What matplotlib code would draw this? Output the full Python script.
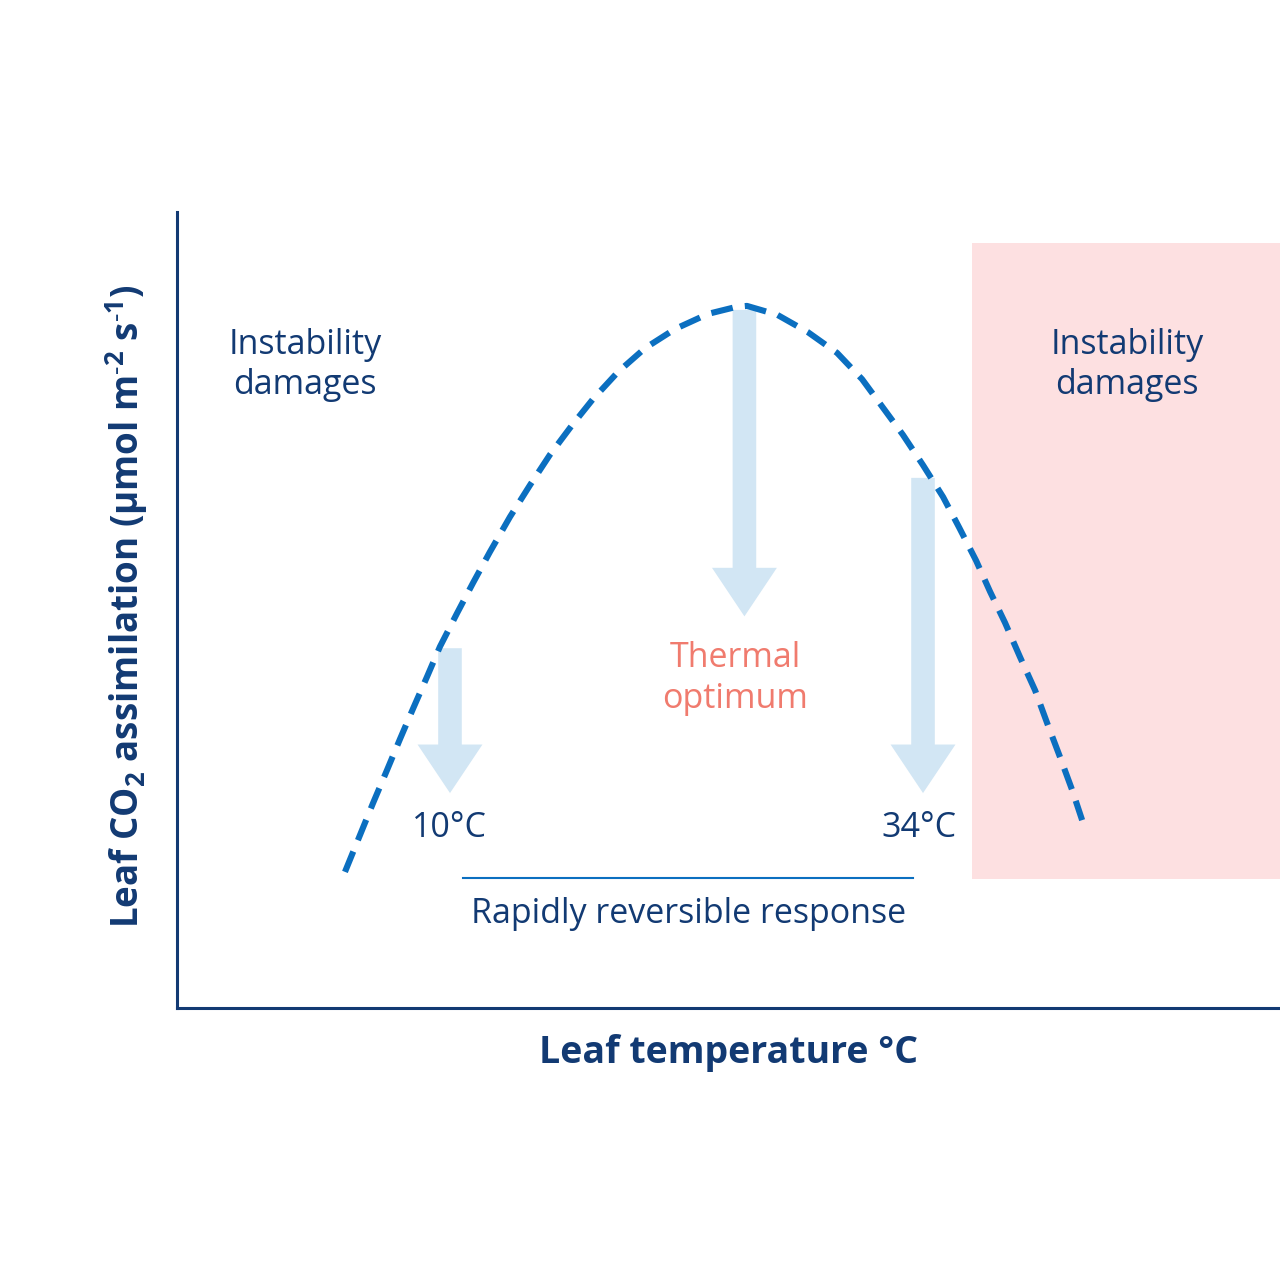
import matplotlib
matplotlib.use("Agg")
import matplotlib.pyplot as plt
from matplotlib.patches import FancyArrow, Rectangle

plt.rcParams['font.family'] = ['Open Sans', 'DejaVu Sans']
plt.rcParams['mathtext.default'] = 'regular'

NAVY = "#123a73"
BLUE = "#0b6fc0"
LIGHT = "#d2e6f4"
PINK = "#fde0e1"
SALMON = "#f07b6e"

# response curve (temperature degC, assimilation in arbitrary units)
temp = [4.66, 5.42, 6.08, 6.80, 7.46, 8.12, 8.83, 9.49, 10.36, 11.17, 12.03,
        13.05, 14.07, 15.08, 16.20, 17.27, 18.54, 19.92, 21.44, 23.12, 24.59,
        25.10, 26.63, 28.20, 29.68, 30.95, 32.02, 33.03, 34.05, 35.07, 35.88,
        36.75, 37.46, 38.22, 38.98, 39.75, 40.36, 41.02, 41.63, 42.14]
assim = [17.1, 21.7, 25.7, 29.9, 33.8, 37.6, 41.6, 45.4, 49.6, 53.4, 57.3,
         61.7, 65.7, 69.5, 73.2, 76.5, 79.9, 82.9, 85.3, 87.2, 88.1,
         88.2, 87.1, 84.9, 82.3, 79.0, 75.4, 72.0, 68.2, 64.2, 60.4,
         56.2, 52.3, 48.4, 44.1, 39.9, 35.8, 31.5, 27.4, 23.6]

# down arrows: x, top, tip
arrow_x = [10.0, 24.97, 34.05]
arrow_top = [45.2, 87.7, 66.6]
arrow_tip = [27.0, 49.2, 27.0]

# damage zone
zone_x = (36.54, 52.2)
zone_y = (16.2, 96.1)

# reversible range bar
bar_x = (10.66, 33.54)
bar_y = 16.3

fig = plt.figure(figsize=(12.8, 12.8), dpi=100)
ax = fig.add_axes([177 / 1280, 272 / 1280, 1103 / 1280, 796 / 1280])
ax.set_xlim(-3.88, 52.2)
ax.set_ylim(0, 100)

ax.add_patch(Rectangle((zone_x[0], zone_y[0]), zone_x[1] - zone_x[0],
                       zone_y[1] - zone_y[0], color=PINK, lw=0, zorder=1))

for x, top, tip in zip(arrow_x, arrow_top, arrow_tip):
    ax.add_patch(FancyArrow(x, top, 0, tip - top, width=1.2, head_width=3.3,
                            head_length=6.1, length_includes_head=True,
                            color=LIGHT, lw=0, zorder=2))

ax.plot(temp, assim, color=BLUE, lw=4.4, ls=(0, (3.6, 2.0)),
        dash_capstyle='butt', zorder=3)

ax.plot(bar_x, [bar_y, bar_y], color=BLUE, lw=1.5, zorder=3)

fs = 24.5
ax.text(2.63, 80.8, "Instability\ndamages", color=NAVY, fontsize=fs,
        ha='center', va='center', linespacing=1.22)
ax.text(44.42, 80.8, "Instability\ndamages", color=NAVY, fontsize=fs,
        ha='center', va='center', linespacing=1.22)
ax.text(24.49, 41.4, "Thermal\noptimum", color=SALMON, fontsize=fs,
        ha='center', va='center', linespacing=1.25)
ax.text(9.95, 22.6, "10°C", color=NAVY, fontsize=fs, ha='center', va='center')
ax.text(33.85, 22.6, "34°C", color=NAVY, fontsize=fs, ha='center', va='center')
ax.text(22.15, 11.8, "Rapidly reversible response", color=NAVY, fontsize=fs,
        ha='center', va='center')

ax.set_xlabel("Leaf temperature °C", fontsize=27, fontweight='bold', color=NAVY,
              va='center')
ax.xaxis.set_label_coords(0.5005, -0.0565)
ax.set_ylabel("Leaf CO$_2$ assimilation (µmol m$^{\u20102}$ s$^{\u20101}$)",
              fontsize=26.5, fontweight='bold', color=NAVY, va='center')
ax.yaxis.set_label_coords(-0.0453, 0.505)

ax.set_xticks([])
ax.set_yticks([])
for side in ['top', 'right']:
    ax.spines[side].set_visible(False)
for side in ['left', 'bottom']:
    ax.spines[side].set_color(NAVY)
    ax.spines[side].set_linewidth(2.2)

fig.savefig("out.png", dpi=100)
